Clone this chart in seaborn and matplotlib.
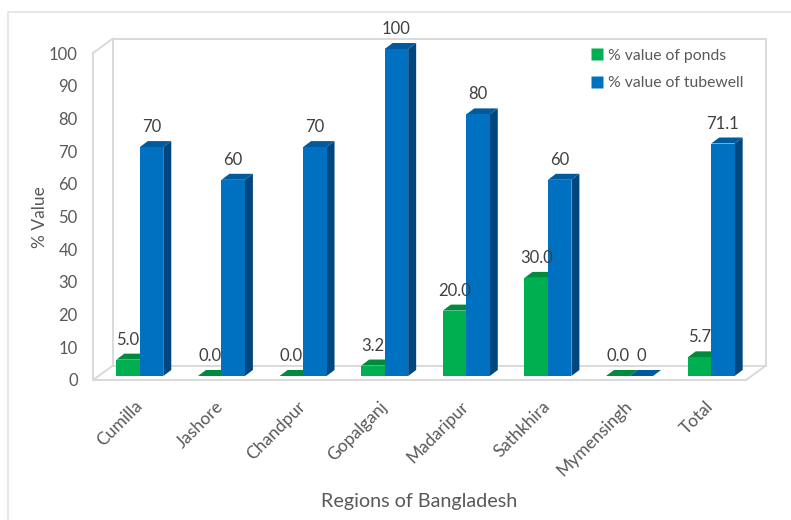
import matplotlib
matplotlib.use("Agg")
import matplotlib.pyplot as plt
from matplotlib.patches import Polygon, Rectangle
from matplotlib.lines import Line2D
import seaborn as sns
import pandas as pd

regions = ["Cumilla", "Jashore", "Chandpur", "Gopalganj", "Madaripur",
           "Sathkhira", "Mymensingh", "Total"]
ponds = [5.0, 0.0, 0.0, 3.2, 20.0, 30.0, 0.0, 5.7]
tubewell = [70, 60, 70, 100, 80, 60, 0, 71.1]
series_names = ["% value of ponds", "% value of tubewell"]
y_ticks = [0, 10, 20, 30, 40, 50, 60, 70, 80, 90, 100]

front_colors = {series_names[0]: "#00B050", series_names[1]: "#0070C0"}
side_colors = {series_names[0]: "#007A36", series_names[1]: "#00467F"}
top_colors = {series_names[0]: "#008A3E", series_names[1]: "#005A9C"}
grid_gray = "#D9D9D9"
text_gray = "#595959"
label_gray = "#404040"

df = pd.DataFrame({
    "Region": regions * 2,
    "Series": [series_names[0]] * len(regions) + [series_names[1]] * len(regions),
    "Value": ponds + tubewell,
})

sns.set_theme(style="white")
plt.rcParams["font.family"] = ["Lato", "DejaVu Sans"]

W, H, DPI = 791, 520, 100
fig = plt.figure(figsize=(W / DPI, H / DPI), dpi=DPI)
fig.patch.set_facecolor("white")

# outer chart border
fig.add_artist(Rectangle((8 / W, -0.1), 1.2, (H - 12) / H + 0.1, transform=fig.transFigure,
                         fill=False, edgecolor="#E3E3E3", linewidth=1.2))

# axes = front plane of the 3-D box
left_px, right_px, top_px, bottom_px = 93, 746, 53, 380
ax = fig.add_axes([left_px / W, 1 - bottom_px / H,
                   (right_px - left_px) / W, (bottom_px - top_px) / H])
ax.set_facecolor("none")

sns.barplot(data=df, x="Region", y="Value", hue="Series", order=regions,
            hue_order=series_names, palette=front_colors, width=0.575,
            saturation=1, edgecolor="none", linewidth=0, legend=False, ax=ax)

ax.set_xlim(-0.5, len(regions) - 0.5)
ax.set_ylim(0, 100)
for s in ax.spines.values():
    s.set_visible(False)

ux = (right_px - left_px) / len(regions)   # pixels per category
uy = (bottom_px - top_px) / 100.0          # pixels per value unit

# 3-D box: back wall and floor, offset in depth
wdx, wdy = 20 / ux, 14.5 / uy
x0, x1 = -0.5, len(regions) - 0.5
box_lines = [
    ([x0, x0], [0, 100]),                          # front-left edge
    ([x0, x0 + wdx], [100, 100 + wdy]),            # top-left depth edge
    ([x0 + wdx, x1 + wdx], [100 + wdy, 100 + wdy]),  # back wall top
    ([x0 + wdx, x0 + wdx], [wdy, 100 + wdy]),      # back wall left
    ([x1 + wdx, x1 + wdx], [wdy, 100 + wdy]),      # back wall right
    ([x0 + wdx, x1 + wdx], [wdy, wdy]),            # floor back edge
    ([x0, x1], [0, 0]),                            # floor front edge
    ([x0, x0 + wdx], [0, wdy]),                    # floor left depth
    ([x1, x1 + wdx], [0, wdy]),                    # floor right depth
]
for xs, ys in box_lines:
    ax.plot(xs, ys, color=grid_gray, lw=1.4, clip_on=False, zorder=1,
            solid_capstyle="projecting")

# bars sit slightly behind the front plane
bdx, bdy = 6 / ux, 4 / uy
ddx, ddy = 8 / ux, 6 / uy   # bar depth
bars = list(ax.patches)
n = len(regions)
for i, p in enumerate(bars):
    series = series_names[i // n]
    x, w, h = p.get_x(), p.get_width(), p.get_height()
    x += bdx
    p.set_x(x)
    p.set_y(bdy)
    p.set_zorder(3)
    p.set_clip_on(False)
    yb, yt = bdy, bdy + h
    side = Polygon([(x + w, yb), (x + w + ddx, yb + ddy), (x + w + ddx, yt + ddy), (x + w, yt)],
                   closed=True, facecolor=side_colors[series], edgecolor="none",
                   zorder=2, clip_on=False)
    top = Polygon([(x, yt), (x + ddx, yt + ddy), (x + w + ddx, yt + ddy), (x + w, yt)],
                  closed=True, facecolor=top_colors[series], edgecolor="none",
                  zorder=2, clip_on=False)
    ax.add_patch(side)
    ax.add_patch(top)
    label = f"{h:.1f}" if series == series_names[0] else f"{h:g}"
    ax.annotate(label, (x + w / 2, yt), xytext=(0, 12), textcoords="offset pixels",
                ha="center", va="bottom", fontsize=12, color=label_gray,
                annotation_clip=False, zorder=5)

ax.set_yticks(y_ticks)
ax.set_yticklabels([str(t) for t in y_ticks], fontsize=12, color=text_gray)
ax.tick_params(axis="y", length=0, pad=11)
ax.tick_params(axis="x", length=0, pad=13)
ax.set_xticks(range(n))
ax.set_xticklabels(regions, rotation=45, ha="right", rotation_mode="anchor",
                   fontsize=12.5, color=text_gray)
ax.set_xlabel("")
ax.set_ylabel("")

fig.text(40 / W, 1 - 217 / H, "% Value", rotation=90, ha="center", va="center",
         fontsize=12.5, color=text_gray)
fig.text(419 / W, 1 - 502 / H, "Regions of Bangladesh", ha="center", va="center",
         fontsize=14.2, color=text_gray)

handles = [Line2D([], [], marker="s", linestyle="none", markersize=8,
                  markerfacecolor=front_colors[s], markeredgecolor="none") for s in series_names]
fig.legend(handles, series_names, loc="upper left", bbox_to_anchor=(583 / W, 1 - 41 / H),
           frameon=False, fontsize=11.3, labelcolor=text_gray, handlelength=0.8,
           handletextpad=0.3, labelspacing=0.85, borderpad=0)

fig.savefig("out.png", dpi=DPI, facecolor="white")
